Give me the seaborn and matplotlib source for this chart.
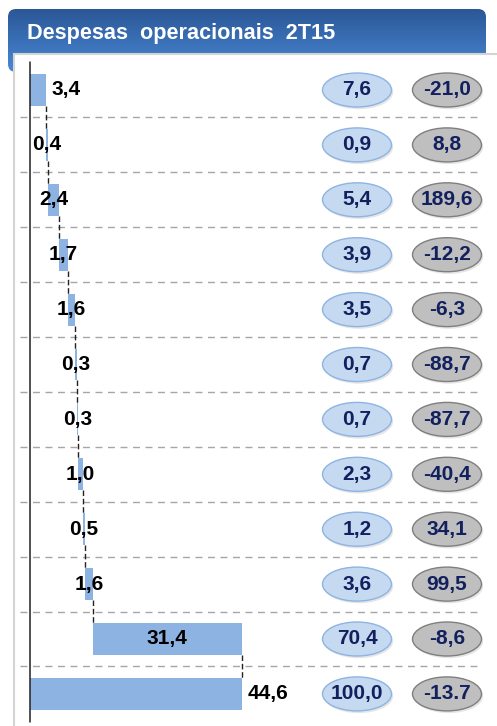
import matplotlib
matplotlib.use("Agg")
import numpy as np
import matplotlib.pyplot as plt
import seaborn as sns
from matplotlib.patches import Ellipse, FancyBboxPatch, Rectangle
from matplotlib.colors import LinearSegmentedColormap

# Data
rows = [f"r{i}" for i in range(12)]
values = [3.4, 0.4, 2.4, 1.7, 1.6, 0.3, 0.3, 1.0, 0.5, 1.6, 31.4, 44.6]
share = [7.6, 0.9, 5.4, 3.9, 3.5, 0.7, 0.7, 2.3, 1.2, 3.6, 70.4, 100.0]
change_labels = ["-21,0", "8,8", "189,6", "-12,2", "-6,3", "-88,7",
                 "-87,7", "-40,4", "34,1", "99,5", "-8,6", "-13.7"]
title = "Despesas  operacionais  2T15"

# waterfall: last row is the total
vals = np.array(values)
starts = np.concatenate([[0], np.cumsum(vals[:-1])[:-1], [0]])
ends = starts + vals

sns.set_style("white")
plt.rcParams["font.family"] = ["Liberation Sans", "DejaVu Sans"]

BAR = "#8db3e2"
NAVY = "#12205e"
PX = 4.753  # px per unit
ROW = 54.9  # px per row

fig = plt.figure(figsize=(4.97, 7.26), dpi=100)

# background / frame layer in pixel coords
bg = fig.add_axes([0, 0, 1, 1], zorder=0)
hdr = FancyBboxPatch((8, 9), 478, 63, boxstyle="round,pad=0,rounding_size=8",
                     facecolor="none", edgecolor="none")
bg.add_patch(hdr)
cmap = LinearSegmentedColormap.from_list("hdr", ["#2a5797", "#4a88d4"])
img = bg.imshow(np.linspace(0, 1, 100).reshape(-1, 1), extent=[8, 486, 72, 9],
                aspect="auto", cmap=cmap)
img.set_clip_path(hdr)
bg.add_patch(Rectangle((14, 54), 500, 700, facecolor="white",
                       edgecolor="#d4d4d4", lw=1.5, zorder=3))
bg.text(27, 33, title, color="white", fontsize=15.6, fontweight="bold",
        va="center", ha="left", zorder=4)
bg.set_xlim(0, 497)
bg.set_ylim(726, 0)
bg.axis("off")

# chart layer
ax = fig.add_axes([0, 0, 1, 1], zorder=2)
ax.patch.set_alpha(0)
sns.barplot(x=ends, y=rows, color=BAR, orient="h", width=0.58,
            saturation=1, edgecolor="none", linewidth=0, ax=ax)
sns.barplot(x=starts, y=rows, color="white", orient="h", width=0.58,
            saturation=1, edgecolor="none", linewidth=0, ax=ax)

n = len(values)
# separators
for k in range(n - 1):
    ax.plot([-2.1, 95.0], [k + 0.5, k + 0.5], color="#a6a6a6", lw=1,
            ls=(0, (5, 4)), zorder=1)
# vertical axis
ax.plot([0, 0], [-0.51, n - 0.49], color="#222222", lw=1.1, zorder=5)
# connectors
for i in range(n - 1):
    ax.plot([ends[i], ends[i]], [i + 0.29, i + 0.71], color="#222222",
            lw=1, ls=(0, (4, 2)), zorder=5)

# value labels
for i, v in enumerate(values):
    lab = f"{v:.1f}".replace(".", ",")
    if i == 0 or i == n - 1:
        ax.text(ends[i] + 1.2, i, lab, ha="left", va="center", fontsize=15,
                fontweight="bold", color="black", zorder=6)
    else:
        ax.text(starts[i] + v / 2, i, lab, ha="center", va="center",
                fontsize=15, fontweight="bold", color="black", zorder=6)

# ellipses
cx1, cx2 = (357 - 30) / PX, (447 - 30) / PX
ew, eh = 69 / PX, 34 / ROW
for i in range(n):
    for cx, fc, ec, lab in [(cx1, "#c5d9f1", "#8db4e2", f"{share[i]:.1f}".replace(".", ",")),
                            (cx2, "#bfbfbf", "#7f7f7f", change_labels[i])]:
        ax.add_patch(Ellipse((cx + 0.35, i + 0.04), ew, eh, facecolor="black",
                             alpha=0.10, edgecolor="none", zorder=3))
        ax.add_patch(Ellipse((cx, i), ew, eh, facecolor=fc, edgecolor=ec,
                             lw=1, zorder=4))
        ax.text(cx, i, lab, ha="center", va="center", fontsize=15,
                fontweight="bold", color=NAVY, zorder=6)

ax.set_xlim(-30 / PX, 467 / PX)
ax.set_ylim((726 - 90) / ROW, -90 / ROW)
ax.axis("off")

fig.savefig("out.png", dpi=100)
